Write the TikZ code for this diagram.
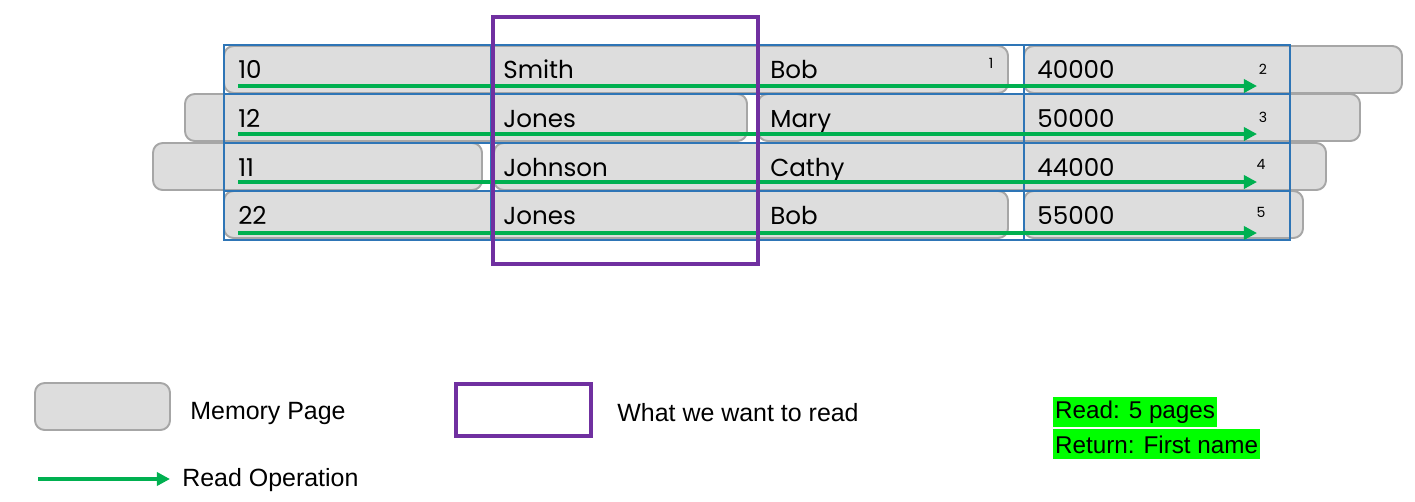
\documentclass[tikz,border=0pt]{standalone}
\usepackage{fontspec}
\setmainfont{Liberation Sans}
\newfontfamily\cellfont{Poppins}
\usetikzlibrary{arrows.meta,positioning}
\definecolor{pagegray}{HTML}{DDDDDD}
\definecolor{pageedge}{HTML}{A6A6A6}
\definecolor{gridblue}{HTML}{2E75B6}
\definecolor{wantpurple}{HTML}{7030A0}
\definecolor{readgreen}{HTML}{00B050}
\definecolor{notegreen}{HTML}{00FF00}
\begin{document}
\begin{tikzpicture}[x=0.02cm,y=-0.02cm,
  page/.style={draw=pageedge,fill=pagegray,line width=1.1pt,rounded corners=5.5pt},
  grid/.style={draw=gridblue,line width=0.8pt},
  want/.style={draw=wantpurple,line width=2.3pt},
  cell/.style={font=\cellfont\fontsize{14}{16}\selectfont,inner sep=0pt,anchor=base west},
  cnt/.style={font=\cellfont\fontsize{8}{9}\selectfont,inner sep=0pt},
  lbl/.style={font=\fontsize{14.2}{16}\selectfont,inner sep=0pt,anchor=west},
  note/.style={font=\fontsize{13.8}{15}\selectfont,fill=notegreen,inner sep=1pt,anchor=north west,minimum height=0.6cm},
  ar/.style={-{Triangle[length=7.5pt,width=7.5pt]},draw=readgreen,line width=2pt}]
\useasboundingbox (0,0) rectangle (1415,501);
% memory pages
\draw[page] (224,46) rectangle (1008,93);
\draw[page] (1024,46) rectangle (1402,93);
\draw[page] (185,94) rectangle (747,141);
\draw[page] (758,94) rectangle (1360,141);
\draw[page] (153,143) rectangle (482,190);
\draw[page] (494,143) rectangle (1326,190);
\draw[page] (224,191) rectangle (1008,238);
\draw[page] (1024,191) rectangle (1303,238);
% table grid
\draw[grid] (224,45) rectangle (1290,240);
\draw[grid] (224,94) -- (1290,94) (224,143) -- (1290,143) (224,191) -- (1290,191);
\draw[grid] (491,45) -- (491,240) (758,45) -- (758,240) (1024,45) -- (1024,240);
% cells
\node[cell] (a1) at (238,78) {10};
\node[cell] (b1) at (503,78) {Smith};
\node[cell] (c1) at (770,78) {Bob};
\node[cell] (d1) at (1037,78) {40000};
\node[cell] (a2) at (238,127) {12};
\node[cell] (b2) at (503,127) {Jones};
\node[cell] (c2) at (770,127) {Mary};
\node[cell] (d2) at (1037,127) {50000};
\node[cell] (a3) at (238,176) {11};
\node[cell] (b3) at (503,176) {Johnson};
\node[cell] (c3) at (770,176) {Cathy};
\node[cell] (d3) at (1037,176) {44000};
\node[cell] (a4) at (238,224) {22};
\node[cell] (b4) at (503,224) {Jones};
\node[cell] (c4) at (770,224) {Bob};
\node[cell] (d4) at (1037,224) {55000};
% page counts
\node[cnt] (n1) at (991,63) {1};
\node[cnt] (n2) at (1263,69) {2};
\node[cnt] (n3) at (1263,117) {3};
\node[cnt] (n4) at (1261,164) {4};
\node[cnt] (n5) at (1261,212) {5};
% read operations
\coordinate (s1) at (238,86);  \coordinate (e1) at (1257,86);
\coordinate (s2) at (238,134); \coordinate (e2) at (1257,134);
\coordinate (s3) at (238,182); \coordinate (e3) at (1257,182);
\coordinate (s4) at (238,233); \coordinate (e4) at (1257,233);
\draw[ar] (s1) -- (e1); \draw[ar] (s2) -- (e2); \draw[ar] (s3) -- (e3); \draw[ar] (s4) -- (e4);
% wanted column
\draw[want] (493,17) rectangle (758,264);
% legend
\draw[page] (35,383) rectangle (170,430);
\node[lbl] (lpage) at (190,413) {Memory Page};
\draw[want] (456,384) rectangle (591,436);
\node[lbl] (lwant) at (617,413) {What we want to read};
\coordinate (ls) at (38,479); \coordinate (le) at (170,479);
\draw[ar] (ls) -- (le);
\node[lbl] (lread) at (182,480) {Read Operation};
\node[note] (r1) at (1053,397) {Read: 5 pages};
\node[note] (r2) at (1053,429) {Return: First name};
\end{tikzpicture}
\end{document}
